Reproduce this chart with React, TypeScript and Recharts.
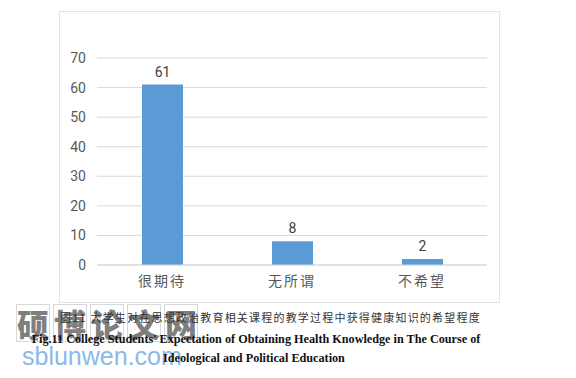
import { BarChart, Bar, XAxis, YAxis, CartesianGrid, LabelList } from "recharts";

const categories = ["很期待", "无所谓", "不希望"];
const counts = [61, 8, 2];
const yTicks = [0, 10, 20, 30, 40, 50, 60, 70];

const captionZh = "图11 大学生对在思想政治教育相关课程的教学过程中获得健康知识的希望程度";
const captionEn1 = "Fig.11 College Students' Expectation of Obtaining Health Knowledge in The Course of";
const captionEn2 = "Ideological and Political Education";
const markZh = ["硕", "博", "论", "文", "网"];
const markEn = "sblunwen.com";

const data = categories.map((name, i) => ({ name, value: counts[i] }));

const cjk = '"Noto Sans CJK SC", "Noto Sans", sans-serif';

export default function App() {
  return (
    <div style={{ position: "absolute", left: 0, top: 0, width: 576, height: 378, background: "#fff", overflow: "hidden" }}>
      <div style={{ position: "absolute", left: 59, top: 11, width: 439, height: 290, border: "1px solid #e3e3e3" }}>
        <BarChart width={439} height={290} data={data} margin={{ top: 46, right: 12, bottom: 0, left: 0 }}>
          <CartesianGrid vertical={false} stroke="#d9d9d9" strokeWidth={1} />
          <XAxis
            dataKey="name"
            height={37}
            axisLine={{ stroke: "#d9d9d9" }}
            tickLine={false}
            tickSize={0}
            tickMargin={11}
            tick={{ fill: "#595959", fontSize: 14, fontFamily: cjk, letterSpacing: 2 }}
          />
          <YAxis
            width={37}
            domain={[0, 70]}
            ticks={yTicks}
            axisLine={false}
            tickLine={false}
            tickSize={0}
            tickMargin={11}
            tick={{ fill: "#595959", fontSize: 14, fontFamily: "Roboto, sans-serif" }}
          />
          <Bar dataKey="value" fill="#5b9bd5" barSize={41} isAnimationActive={false}>
            <LabelList dataKey="value" position="top" offset={8} fill="#404040" fontSize={14} fontFamily="Roboto, sans-serif" />
          </Bar>
        </BarChart>
      </div>

      {/* watermark */}
      <div style={{ position: "absolute", left: 16, top: 304, display: "flex" }}>
        {markZh.map((c) => (
          <div
            key={c}
            style={{
              width: 32,
              height: 36,
              marginRight: 3,
              border: "1px solid #d8d8d8",
              color: "rgba(85,85,85,0.75)",
              fontFamily: cjk,
              fontWeight: 900,
              fontSize: 32,
              lineHeight: "36px",
              textAlign: "center",
            }}
          >
            {c}
          </div>
        ))}
      </div>
      <div style={{ position: "absolute", left: 22, top: 340, color: "#8bb9e8", fontFamily: '"Liberation Sans", Arial, sans-serif', fontSize: 25, lineHeight: "32px" }}>
        {markEn}
      </div>

      {/* caption */}
      <div style={{ position: "absolute", left: 60, top: 309, fontFamily: cjk, fontSize: 11, letterSpacing: 1.2, color: "#333", whiteSpace: "nowrap", lineHeight: "16px" }}>
        {captionZh}
      </div>
      <div style={{ position: "absolute", left: 0, top: 331, width: 512, textAlign: "center", fontFamily: '"Liberation Serif", serif', fontWeight: "bold", fontSize: 12.2, color: "#111", whiteSpace: "nowrap", lineHeight: "16px" }}>
        {captionEn1}
      </div>
      <div style={{ position: "absolute", left: 0, top: 350, width: 508, textAlign: "center", fontFamily: '"Liberation Serif", serif', fontWeight: "bold", fontSize: 12.2, color: "#111", whiteSpace: "nowrap", lineHeight: "16px" }}>
        {captionEn2}
      </div>
    </div>
  );
}
